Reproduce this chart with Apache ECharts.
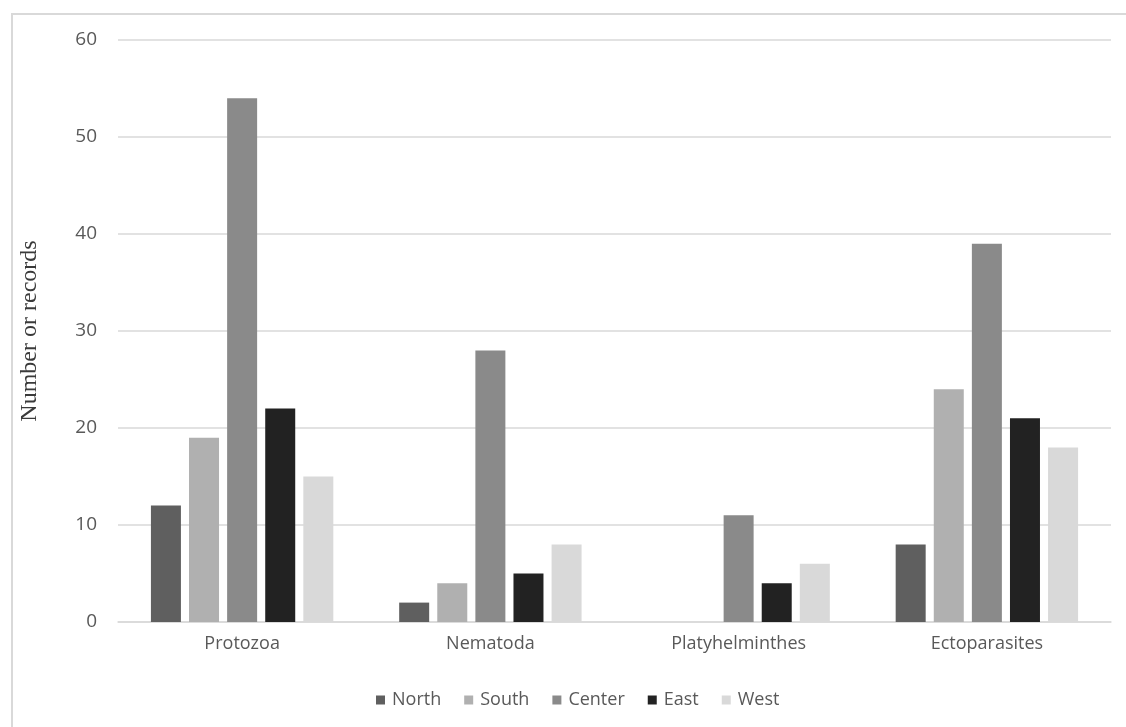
<!DOCTYPE html>
<html><head><meta charset="utf-8">
<script src="https://cdn.jsdelivr.net/npm/echarts@6/dist/echarts.min.js"></script>
<style>html,body{margin:0;padding:0;background:#fff}#c{width:1126px;height:727px}</style>
</head><body><div id="c"></div>
<script>
const categories = ['Protozoa', 'Nematoda', 'Platyhelminthes', 'Ectoparasites'];
const seriesNames = ['North', 'South', 'Center', 'East', 'West'];
const north = [12, 2, 0, 8];
const south = [19, 4, 0, 24];
const center = [54, 28, 11, 39];
const east = [22, 5, 4, 21];
const west = [15, 8, 6, 18];
const colors = ['#5f5f5f', '#b0b0b0', '#8a8a8a', '#222222', '#d9d9d9'];
const values = [north, south, center, east, west];

const chart = echarts.init(document.getElementById('c'));
chart.setOption({
  animation: false,
  backgroundColor: '#fff',
  graphic: [{
    type: 'rect', shape: {x: 12, y: 14, width: 1200, height: 800},
    style: {fill: 'none', stroke: '#d9d9d9', lineWidth: 2}, z: -1
  }],
  grid: {left: 118, right: 15, top: 40, bottom: 105},
  legend: {
    top: 686, left: 371, itemWidth: 9, itemHeight: 9, itemGap: 23,
    icon: 'rect',
    textStyle: {fontFamily: 'Open Sans', fontSize: 18, color: '#595959', padding: [0, 0, 0, 2]},
    data: seriesNames
  },
  xAxis: {
    type: 'category', data: categories,
    axisLine: {lineStyle: {color: '#d9d9d9', width: 1.5}},
    axisTick: {show: false},
    axisLabel: {fontFamily: 'Open Sans', fontSize: 18, color: '#595959', margin: 13}
  },
  yAxis: {
    type: 'value', min: 0, max: 60, interval: 10,
    name: 'Number or records', nameLocation: 'middle', nameGap: 76,
    nameTextStyle: {fontFamily: 'Liberation Serif', fontSize: 24, color: '#3a3a3a'},
    axisLine: {show: false}, axisTick: {show: false},
    axisLabel: {fontFamily: 'Open Sans', fontSize: 19, color: '#595959', margin: 21},
    splitLine: {lineStyle: {color: '#d9d9d9', width: 1.5}}
  },
  series: seriesNames.map((n, i) => ({
    name: n, type: 'bar', data: values[i],
    barWidth: 30, barGap: '27%', barCategoryGap: '26.6%',
    itemStyle: {color: colors[i]}
  }))
});
</script></body></html>
